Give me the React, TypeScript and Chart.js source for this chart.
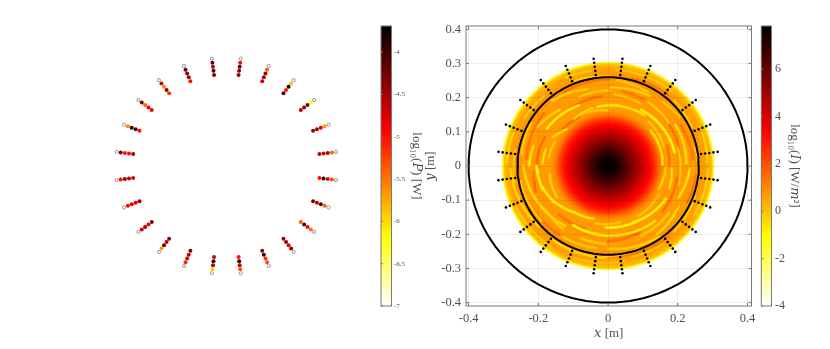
import React, { useEffect, useRef } from "react";
import { Chart, registerables } from "chart.js";

Chart.register(...registerables);

const FONT = "'Liberation Serif', 'DejaVu Serif', serif";
const TEXT = "#505050";
const AXIS = "#787878";

// Geometry of the panels' shared data window, metres
const xLimits = [-0.4075, 0.4115];
const yLimits = [-0.41, 0.41];

// Axis ticks
const xTicks = [-0.4, -0.2, 0, 0.2, 0.4];
const yTicks = [-0.4, -0.3, -0.2, -0.1, 0, 0.1, 0.2, 0.3, 0.4];
const powerTicks = [-7, -6.5, -6, -5.5, -5, -4.5, -4];
const intensityTicks = [-4, -2, 0, 2, 4, 6];

// Colour ranges
const powerRange = [-7, -3.69];
const intensityRange = [-4, 7.82];

// Probes: 24 stacks of 5 detectors
const probeAngles = [
  7.5, 22.5, 37.5, 52.5, 67.5, 82.5, 97.5, 112.5, 127.5, 142.5, 157.5, 172.5,
  187.5, 202.5, 217.5, 232.5, 247.5, 262.5, 277.5, 292.5, 307.5, 322.5, 337.5, 352.5,
];
const probeRadii = [0.317, 0.305, 0.293, 0.281, 0.269];
const probeLogP = [
  [-7, -5.45, -4.5, -4.7, -4.6],
  [-7, -5.7, -4.8, -4.5, -4.4],
  [-7, -6.2, -4.3, -4.5, -4.6],
  [-7, -5.9, -3.9, -5.0, -4.0],
  [-7, -5.4, -4.5, -4.4, -4.7],
  [-7, -5.0, -4.1, -4.4, -4.4],
  [-7, -4.2, -4.6, -4.1, -4.3],
  [-7, -4.3, -4.4, -4.5, -5.0],
  [-7, -4.7, -5.6, -4.4, -5.2],
  [-7, -4.3, -5.4, -4.9, -4.9],
  [-7, -5.6, -3.9, -4.1, -5.0],
  [-7, -4.3, -5.0, -5.0, -4.5],
  [-7, -5.0, -4.5, -4.6, -4.8],
  [-7, -4.95, -4.8, -4.8, -4.5],
  [-7, -4.7, -4.5, -4.9, -4.3],
  [-7, -5.7, -4.2, -4.5, -4.4],
  [-7, -5.1, -4.7, -4.6, -4.3],
  [-7, -5.95, -4.6, -4.0, -4.7],
  [-7, -5.3, -4.7, -3.9, -5.0],
  [-7, -5.3, -5.2, -3.9, -4.4],
  [-7, -4.4, -4.8, -4.4, -4.5],
  [-7, -5.5, -4.9, -4.1, -5.4],
  [-7, -5.4, -4.1, -4.6, -4.3],
  [-7, -5.3, -4.9, -3.9, -5.0],
];

// Beam: radial profile of log10(I) read along the disc radius
const discRadii = [
  0.002, 0.005, 0.01, 0.015, 0.02, 0.025, 0.03, 0.035, 0.04, 0.045, 0.05, 0.055, 0.06, 0.065,
  0.07, 0.075, 0.08, 0.085, 0.09, 0.095, 0.1, 0.105, 0.11, 0.115, 0.12, 0.125, 0.13, 0.135,
  0.14, 0.145, 0.15, 0.155, 0.16, 0.165, 0.17, 0.175, 0.18, 0.185, 0.19, 0.195, 0.2, 0.205,
  0.21, 0.215, 0.22, 0.225, 0.23, 0.235, 0.24, 0.245, 0.25, 0.255, 0.26, 0.265, 0.27, 0.275,
  0.28, 0.285, 0.29, 0.295, 0.299, 0.302,
];
const discLogI = [
  7.8, 7.78, 7.72, 7.62, 7.5, 7.35, 7.2, 7.02, 6.82, 6.62, 6.4, 6.2, 5.98, 5.76,
  5.54, 5.32, 5.1, 4.88, 4.66, 4.44, 4.22, 4.0, 3.78, 3.55, 3.3, 3.05, 2.75, 2.4,
  2.0, 1.6, 1.2, 0.95, 0.8, 0.7, 0.65, 0.7, 0.75, 0.6, 0.75, 0.65, 0.8, 0.7,
  0.8, 0.7, 0.65, 0.75, 0.6, 0.8, 0.7, 0.6, 0.8, 0.75, 0.65, 0.8, 0.7, 0.6,
  0.65, 0.5, 0.35, 0.1, -0.7, -2.2,
];

// Bright filaments: [r start, r end, angle start, angle end, log10(I)]
const filaments = [
  [0.237, 0.23, 60, 88, -0.4], [0.195, 0.19, 12, 60, -1.0], [0.182, 0.178, 55, 80, -0.6],
  [0.18, 0.176, 80, 100, -0.8], [0.157, 0.16, 2, 40, -0.6], [0.225, 0.228, 2, 32, -0.6],
  [0.285, 0.287, 2, 20, -0.5], [0.265, 0.27, 25, 45, -0.3], [0.285, 0.282, 50, 85, -0.3],
  [0.25, 0.245, 35, 50, -0.2], [0.205, 0.21, 62, 85, -0.2], [0.196, 0.207, 115, 148, -0.9],
  [0.222, 0.226, 165, 180, -0.6], [0.288, 0.29, 160, 178, -0.5], [0.233, 0.249, 105, 130, -0.4],
  [0.275, 0.278, 132, 150, -0.3], [0.283, 0.286, 100, 115, -0.4], [0.16, 0.18, 138, 152, -0.5],
  [0.185, 0.188, 165, 178, -0.6], [0.175, 0.17, 105, 125, -0.3], [0.205, 0.2, 180, 200, -1.0],
  [0.198, 0.187, 198, 215, -0.9], [0.187, 0.167, 213, 235, -0.8], [0.167, 0.16, 233, 255, -0.7],
  [0.243, 0.23, 180, 205, -0.6], [0.23, 0.214, 203, 235, -0.5], [0.2, 0.204, 240, 270, -1.0],
  [0.28, 0.266, 182, 222, -0.5], [0.255, 0.25, 190, 220, -0.2], [0.268, 0.268, 232, 268, -0.5],
  [0.286, 0.283, 250, 280, -0.2], [0.225, 0.228, 250, 268, -0.3], [0.18, 0.182, 268, 295, -1.0],
  [0.18, 0.192, 293, 330, -0.9], [0.203, 0.21, 272, 310, -0.7], [0.187, 0.183, 340, 358, -0.5],
  [0.16, 0.165, 335, 358, -0.4], [0.222, 0.235, 335, 358, -0.6], [0.242, 0.254, 270, 305, -0.4],
  [0.244, 0.235, 305, 330, -0.5], [0.285, 0.287, 330, 358, -0.4], [0.27, 0.265, 315, 340, -0.3],
  [0.275, 0.278, 285, 305, -0.2], [0.21, 0.206, 345, 375, -0.2], [0.26, 0.256, 350, 372, -0.1],
  [0.17, 0.175, 20, 48, -0.3], [0.215, 0.22, 36, 58, -0.3], [0.245, 0.252, 62, 84, -0.2],
  [0.262, 0.268, 88, 112, -0.3], [0.222, 0.218, 90, 112, -0.3], [0.163, 0.17, 90, 118, -0.2],
  [0.215, 0.232, 130, 150, -0.4], [0.255, 0.25, 150, 172, -0.3], [0.168, 0.172, 155, 172, -0.2],
  [0.27, 0.272, 170, 190, -0.2], [0.17, 0.173, 188, 212, -0.4], [0.22, 0.225, 215, 235, -0.3],
  [0.29, 0.288, 205, 235, -0.3], [0.245, 0.242, 238, 262, -0.3], [0.172, 0.168, 258, 282, -0.2],
  [0.265, 0.258, 268, 290, -0.4], [0.225, 0.222, 295, 322, -0.3], [0.17, 0.168, 300, 330, -0.2],
  [0.258, 0.262, 318, 345, -0.2],
];

// Darker patches between the filaments: same layout, narrower value range
const darkBands = [
  [0.21, 0.215, 15, 45, 1.35], [0.245, 0.24, 5, 30, 1.35], [0.175, 0.18, 0, 20, 1.4],
  [0.27, 0.265, 50, 75, 1.3], [0.22, 0.222, 62, 80, 1.3], [0.255, 0.25, 90, 120, 1.35],
  [0.205, 0.2, 95, 125, 1.4], [0.24, 0.235, 140, 175, 1.35], [0.2, 0.205, 155, 178, 1.4],
  [0.26, 0.255, 180, 200, 1.3], [0.215, 0.22, 185, 200, 1.4], [0.2, 0.195, 225, 250, 1.4],
  [0.25, 0.245, 205, 235, 1.3], [0.22, 0.215, 270, 295, 1.4], [0.265, 0.27, 270, 310, 1.3],
  [0.205, 0.2, 320, 350, 1.4], [0.25, 0.255, 335, 355, 1.35], [0.165, 0.17, 120, 145, 1.5],
];

// Solid black circles
const circleRadii = [0.26, 0.4];

function hot(value: number, range: number[]) {
  const t = Math.min(1, Math.max(0, (range[1] - value) / (range[1] - range[0])));
  const c = (x: number) => Math.round(255 * Math.min(1, Math.max(0, x)));
  return `rgb(${c(t / 0.375)},${c((t - 0.375) / 0.375)},${c((t - 0.75) / 0.25)})`;
}

function arc(r0: number, r1: number, a0: number, a1: number, step: number) {
  const n = Math.max(1, Math.round((a1 - a0) / step));
  const pts: { x: number; y: number }[] = [];
  for (let i = 0; i <= n; i++) {
    const f = i / n;
    const a = ((a0 + (a1 - a0) * f) * Math.PI) / 180;
    const r = r0 + (r1 - r0) * f;
    pts.push({ x: r * Math.cos(a), y: r * Math.sin(a) });
  }
  return pts;
}

function probePoints() {
  const pts: { x: number; y: number }[] = [];
  probeAngles.forEach((deg) => {
    const a = (deg * Math.PI) / 180;
    probeRadii.forEach((r) => pts.push({ x: r * Math.cos(a), y: r * Math.sin(a) }));
  });
  return pts;
}

function framePlugin(tickLen: number, tickTarget: "box" | "bar") {
  return {
    id: "frame",
    afterDraw(chart: any) {
      const { ctx, chartArea: a, scales } = chart;
      ctx.save();
      ctx.strokeStyle = AXIS;
      ctx.lineWidth = 1;
      ctx.strokeRect(a.left, a.top, a.right - a.left, a.bottom - a.top);
      ctx.beginPath();
      scales.y.ticks.forEach((t: any) => {
        const p = scales.y.getPixelForValue(t.value);
        ctx.moveTo(a.left, p);
        ctx.lineTo(a.left + tickLen, p);
        if (tickTarget === "box") {
          ctx.moveTo(a.right, p);
          ctx.lineTo(a.right - tickLen, p);
        }
      });
      if (tickTarget === "box") {
        scales.x.ticks.forEach((t: any) => {
          const p = scales.x.getPixelForValue(t.value);
          ctx.moveTo(p, a.bottom);
          ctx.lineTo(p, a.bottom - tickLen);
          ctx.moveTo(p, a.top);
          ctx.lineTo(p, a.top + tickLen);
        });
      }
      ctx.stroke();
      ctx.restore();
    },
  };
}

function probesConfig() {
  const values = probeLogP.flat();
  return {
    type: "scatter",
    data: {
      datasets: [
        {
          data: probePoints(),
          showLine: false,
          pointRadius: values.map((v) => (v <= powerRange[0] ? 1.6 : 2)),
          pointBorderWidth: values.map((v) => (v <= powerRange[0] ? 0.8 : 0)),
          pointBorderColor: values.map((v) => (v <= powerRange[0] ? "#808080" : "transparent")),
          pointBackgroundColor: values.map((v) => hot(v, powerRange)),
        },
      ],
    },
    options: {
      animation: false,
      responsive: false,
      events: [],
      layout: { padding: { left: 84, right: 460, top: 26, bottom: 43 } },
      plugins: { legend: { display: false }, tooltip: { enabled: false } },
      scales: {
        x: { display: false, min: xLimits[0], max: xLimits[1] },
        y: { display: false, min: yLimits[0], max: yLimits[1] },
      },
    },
  };
}

function colorbarConfig(range: number[], ticks: number[], title: string, size: number, titleSize: number, pad: number[], tickPad: number, axisWidth: number) {
  const count = 140;
  const step = (range[1] - range[0]) / count;
  const levels = Array.from({ length: count }, (_, i) => range[0] + i * step);
  return {
    type: "bar",
    data: {
      labels: ["scale"],
      datasets: levels.map((lo) => ({
        data: [[lo, lo + step * 1.6]],
        grouped: false,
        backgroundColor: hot(lo + step / 2, range),
        barPercentage: 1,
        categoryPercentage: 1,
        order: -lo,
      })),
    },
    options: {
      animation: false,
      responsive: false,
      events: [],
      layout: { padding: { left: pad[0], right: pad[1], top: 26, bottom: 43 } },
      plugins: { legend: { display: false }, tooltip: { enabled: false } },
      scales: {
        x: { display: false },
        y: {
          position: "right",
          min: range[0],
          max: range[1],
          afterFit: (s: any) => { s.width = axisWidth; },
          afterBuildTicks: (s: any) => { s.ticks = ticks.map((value) => ({ value })); },
          grid: { display: false, drawTicks: false },
          border: { display: false },
          ticks: {
            autoSkip: false,
            maxRotation: 0,
            padding: tickPad,
            color: TEXT,
            font: { family: FONT, size },
            callback: (v: any) => String(v),
          },
          title: { display: true, text: title, color: TEXT, padding: 0, font: { family: FONT, size: titleSize } },
        },
      },
    },
    plugins: [framePlugin(2, "bar")],
  };
}

function beamConfig() {
  const line = (data: any[], color: string, width: number) => ({
    data,
    showLine: true,
    pointRadius: 0,
    borderColor: color,
    borderWidth: width,
    borderCapStyle: "round",
    borderJoinStyle: "round",
    tension: 0,
    fill: false,
  });
  const dots = {
    data: probePoints(),
    showLine: false,
    pointRadius: 1.3,
    pointBorderWidth: 0,
    pointBackgroundColor: "#000000",
  };
  const circles = circleRadii.map((r) => line(arc(r, r, 0, 360, 3), "#000000", 2));
  const arcs = filaments.map(([r0, r1, a0, a1, v]) => line(arc(r0, r1, a0, a1, 4), hot(v, intensityRange), 1.2));
  const halos = filaments.map(([r0, r1, a0, a1, v]) => line(arc(r0, r1, a0, a1, 4), hot(v + 0.6, intensityRange), 3));
  const bands = darkBands.map(([r0, r1, a0, a1, v]) => line(arc(r0, r1, a0, a1, 4), hot(v, intensityRange), 2.6));
  const rings = discRadii.map((r, i) => line(arc(r, r, 0, 360, 5), hot(discLogI[i], intensityRange), i < 2 ? 3 : 2.6));
  const tickLabel = (v: any) => (v === 0 ? "0" : Number(v).toFixed(1));
  const grid = { color: "rgba(0,0,0,0.07)", drawTicks: false, z: 1, lineWidth: 1 };
  return {
    type: "scatter",
    data: { datasets: [dots, ...circles, ...arcs, ...halos, ...bands, ...rings] },
    options: {
      animation: false,
      responsive: false,
      events: [],
      layout: { padding: { left: 422.5, right: 78.5, top: 26, bottom: 8 } },
      plugins: { legend: { display: false }, tooltip: { enabled: false } },
      scales: {
        x: {
          min: xLimits[0],
          max: xLimits[1],
          afterFit: (s: any) => { s.height = 35; },
          afterBuildTicks: (s: any) => { s.ticks = xTicks.map((value) => ({ value })); },
          grid,
          border: { display: false },
          ticks: { autoSkip: false, maxRotation: 0, padding: 5.5, color: TEXT, font: { family: FONT, size: 12.5 }, callback: tickLabel },
          title: { display: true, text: "𝑥 [m]", color: TEXT, padding: 0, font: { family: FONT, size: 13 } },
        },
        y: {
          min: yLimits[0],
          max: yLimits[1],
          afterFit: (s: any) => { s.width = 43.5; },
          afterBuildTicks: (s: any) => { s.ticks = yTicks.map((value) => ({ value })); },
          grid,
          border: { display: false },
          ticks: { autoSkip: false, padding: 5, color: TEXT, font: { family: FONT, size: 12.5 }, callback: tickLabel },
          title: { display: true, text: "𝑦 [m]", color: TEXT, padding: 0, font: { family: FONT, size: 13 } },
        },
      },
    },
    plugins: [framePlugin(3, "box")],
  };
}

export default function App() {
  const refs = [useRef<HTMLCanvasElement>(null), useRef<HTMLCanvasElement>(null), useRef<HTMLCanvasElement>(null), useRef<HTMLCanvasElement>(null)];
  useEffect(() => {
    const configs = [
      probesConfig(),
      colorbarConfig(powerRange, powerTicks, "log₁₀(𝑃) [W]", 7, 13, [381, 406], 2.5, 32.5),
      beamConfig(),
      colorbarConfig(intensityRange, intensityTicks, "log₁₀(𝐼) [W/𝑚²]", 12, 13, [761.3, 28], 3.5, 30.5),
    ];
    const charts = configs.map((c, i) => new Chart(refs[i].current as any, c as any));
    return () => charts.forEach((c) => c.destroy());
  }, []);
  return (
    <div style={{ position: "absolute", left: 0, top: 0, width: 830, height: 349, background: "#fff", overflow: "hidden" }}>
      {refs.map((r, i) => (
        <canvas key={i} ref={r} width={830} height={349} style={{ position: "absolute", left: 0, top: 0, width: 830, height: 349 }} />
      ))}
    </div>
  );
}
